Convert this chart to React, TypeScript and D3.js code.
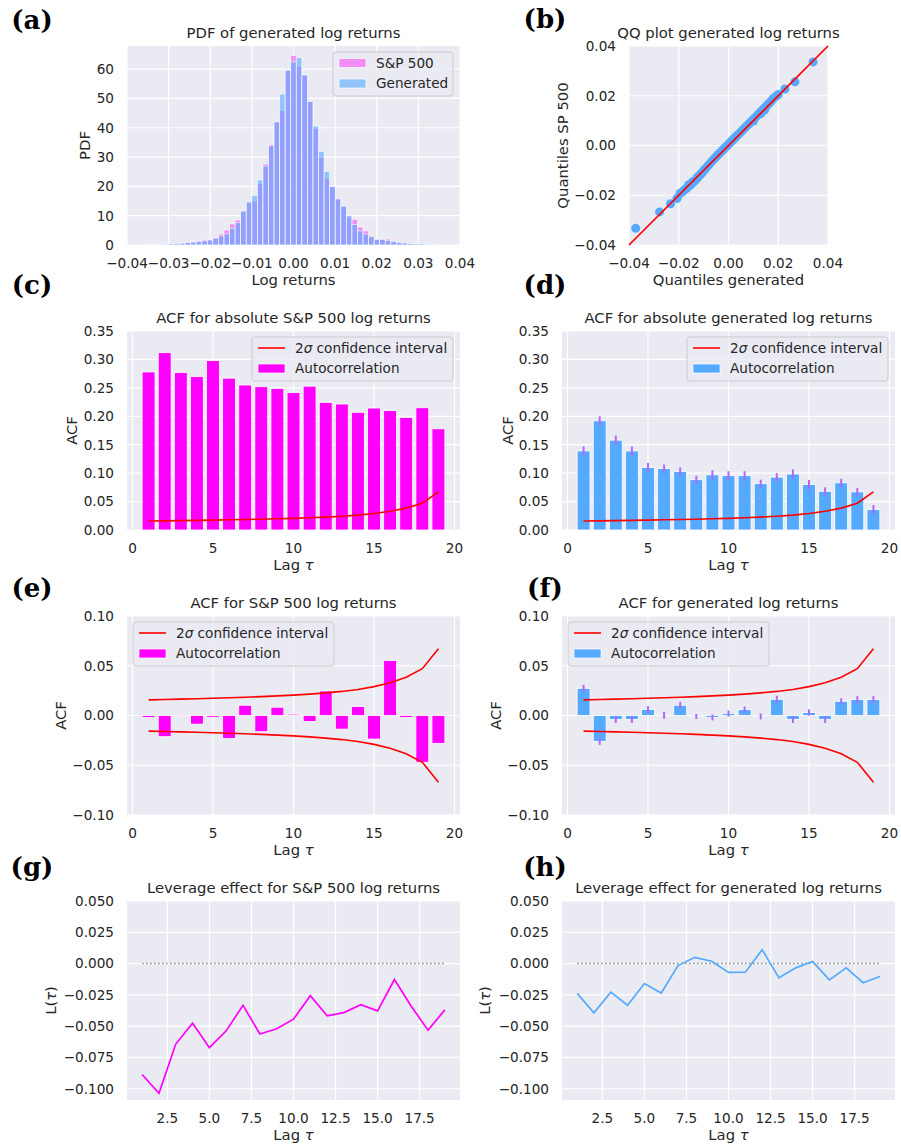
import React from 'react';
import * as d3 from 'd3';

const FONT = '"DejaVu Sans", sans-serif';
const SERIF = '"DejaVu Serif", serif';
const BG = '#eaeaf2';
const TXT = '#262626';
const MAGENTA = '#ff00ff';
const BLUE = '#55aaff';
const RED = '#ff0000';
const ERR = '#b266ff';
const TICK_FS = 13.6;
const LABEL_FS = 14.8;
const LEGEND_FS = 13.6;

// ---------- (a) histogram ----------
const histBinWidth = 0.001336;
const histBinIndex = [-28, -27, -26, -25, -24, -23, -22, -21, -20, -19, -18, -17, -16, -15, -14, -13, -12, -11, -10, -9, -8, -7, -6, -5, -4, -3, -2, -1, 0, 1, 2, 3, 4, 5, 6, 7, 8, 9, 10, 11, 12, 13, 14, 15, 16, 17, 18, 19, 20, 21, 22, 23, 24, 25, 26];
const histSP = [0.1, 0.15, 0.2, 0.25, 0.3, 0.35, 0.45, 0.55, 0.7, 1.0, 1.1, 1.4, 1.7, 1.9, 2.6, 3.75, 5.1, 7.2, 8.5, 11.5, 14.4, 15.0, 21.0, 27.6, 34.3, 42.0, 45.8, 59.4, 64.7, 61.0, 58.0, 49.0, 39.8, 29.8, 22.7, 19.9, 15.9, 13.1, 9.5, 8.75, 6.1, 4.8, 3.1, 2.0, 2.0, 2.0, 1.25, 0.9, 0.7, 0.5, 0.4, 0.3, 0.25, 0.2, 0.25];
const histGen = [0.05, 0.1, 0.15, 0.2, 0.25, 0.3, 0.4, 0.55, 0.6, 0.9, 1.0, 1.25, 1.4, 1.7, 2.3, 3.1, 3.8, 5.7, 7.6, 11.6, 14.7, 16.8, 22.2, 26.9, 33.8, 42.0, 51.5, 59.7, 62.5, 63.9, 58.0, 48.9, 40.6, 32.0, 25.0, 19.9, 15.7, 13.3, 10.0, 7.0, 4.8, 3.75, 2.8, 1.9, 1.9, 1.5, 1.25, 0.9, 0.7, 0.5, 0.4, 0.45, 0.3, 0.3, 0.15];
const histXTicks = [-0.04, -0.03, -0.02, -0.01, 0, 0.01, 0.02, 0.03, 0.04];
const histYTicks = [0, 10, 20, 30, 40, 50, 60];

// ---------- (b) QQ plot ----------
const qqGenerated = [-0.0373, -0.0277, -0.0233, -0.0207, -0.0195, -0.0185, -0.0176, -0.0167, -0.0160, -0.0158, -0.0150, -0.0145, -0.0142, -0.0134, -0.0126, -0.0125, -0.0119, -0.0112, -0.0110, -0.0104, -0.0097, -0.0095, -0.0090, -0.0083, -0.0076, -0.0069, -0.0062, -0.0055, -0.0048, -0.0041, -0.0034, -0.0027, -0.0020, -0.0013, -0.0006, 0.0001, 0.0008, 0.0015, 0.0022, 0.0029, 0.0036, 0.0043, 0.0050, 0.0057, 0.0064, 0.0071, 0.0078, 0.0085, 0.0092, 0.0099, 0.0100, 0.0106, 0.0113, 0.0120, 0.0127, 0.0130, 0.0134, 0.0141, 0.0145, 0.0148, 0.0155, 0.0163, 0.0171, 0.0179, 0.0190, 0.0200, 0.0227, 0.0267, 0.0340];
const qqSP500 = [-0.0333, -0.0267, -0.0234, -0.0213, -0.0193, -0.0186, -0.0178, -0.0171, -0.0158, -0.0163, -0.0156, -0.0146, -0.0148, -0.0141, -0.0132, -0.0127, -0.0124, -0.0116, -0.0112, -0.0107, -0.0098, -0.0096, -0.0090, -0.0082, -0.0074, -0.0066, -0.0058, -0.0051, -0.0043, -0.0036, -0.0029, -0.0022, -0.0015, -0.0008, -0.0001, 0.0006, 0.0013, 0.0020, 0.0027, 0.0034, 0.0041, 0.0048, 0.0055, 0.0062, 0.0069, 0.0076, 0.0083, 0.0090, 0.0097, 0.0104, 0.0098, 0.0111, 0.0118, 0.0126, 0.0133, 0.0128, 0.0140, 0.0147, 0.0142, 0.0154, 0.0161, 0.0169, 0.0178, 0.0188, 0.0197, 0.0205, 0.0227, 0.0256, 0.0336];
const qqTicks = [-0.04, -0.02, 0, 0.02, 0.04];

// ---------- ACF panels ----------
const lags = [1, 2, 3, 4, 5, 6, 7, 8, 9, 10, 11, 12, 13, 14, 15, 16, 17, 18, 19];
const confUpper = [0.0157, 0.0161, 0.0165, 0.0169, 0.0174, 0.0179, 0.0184, 0.019, 0.0197, 0.0205, 0.0215, 0.0227, 0.0242, 0.0262, 0.029, 0.033, 0.0385, 0.047, 0.067];
const confLower = [-0.0157, -0.0161, -0.0165, -0.0169, -0.0174, -0.0179, -0.0184, -0.019, -0.0197, -0.0205, -0.0215, -0.0227, -0.0242, -0.0262, -0.029, -0.033, -0.0385, -0.047, -0.067];
const acfAbsSP = [0.278, 0.312, 0.277, 0.270, 0.298, 0.267, 0.255, 0.252, 0.249, 0.242, 0.253, 0.2245, 0.2216, 0.207, 0.2145, 0.210, 0.198, 0.215, 0.178];
const acfAbsGen = [0.139, 0.192, 0.158, 0.139, 0.110, 0.108, 0.103, 0.0885, 0.097, 0.0955, 0.0955, 0.0815, 0.093, 0.0985, 0.080, 0.068, 0.083, 0.067, 0.036];
const acfAbsGenErr = [0.008, 0.008, 0.008, 0.008, 0.008, 0.007, 0.007, 0.007, 0.008, 0.008, 0.008, 0.007, 0.007, 0.008, 0.008, 0.007, 0.007, 0.007, 0.008];
const acfSP = [-0.002, -0.0213, -0.001, -0.0087, -0.0017, -0.023, 0.0103, -0.0163, 0.0083, 0.0013, -0.006, 0.0247, -0.0137, 0.009, -0.0237, 0.0553, -0.002, -0.047, -0.028];
const acfGen = [0.0273, -0.026, -0.004, -0.004, 0.006, 0.0003, 0.0103, -0.001, -0.002, 0.002, 0.006, -0.001, 0.0163, -0.004, 0.003, -0.004, 0.0143, 0.016, 0.016];
const acfGenErr = [0.0035, 0.0035, 0.0035, 0.0035, 0.0035, 0.0035, 0.0035, 0.0025, 0.003, 0.003, 0.003, 0.003, 0.0035, 0.0035, 0.003, 0.0035, 0.003, 0.0035, 0.0035];
const acfXTicks = [0, 5, 10, 15, 20];
const acfAbsYTicks = [0, 0.05, 0.1, 0.15, 0.2, 0.25, 0.3, 0.35];
const acfYTicks = [-0.1, -0.05, 0, 0.05, 0.1];

// ---------- Leverage ----------
const levSP = [-0.0886, -0.1037, -0.0643, -0.0476, -0.0672, -0.0537, -0.0333, -0.0563, -0.0521, -0.0444, -0.0257, -0.0418, -0.0392, -0.0328, -0.0378, -0.0127, -0.0341, -0.0532, -0.037];
const levGen = [-0.0238, -0.0394, -0.0228, -0.0333, -0.0159, -0.0235, -0.0016, 0.005, 0.0019, -0.0071, -0.0069, 0.0111, -0.0114, -0.0034, 0.0016, -0.013, -0.0034, -0.0153, -0.0103];
const levXTicks = [2.5, 5, 7.5, 10, 12.5, 15, 17.5];
const levYTicks = [-0.1, -0.075, -0.05, -0.025, 0, 0.025, 0.05];

type Box = { x0: number; x1: number; y0: number; y1: number };

const LEFT = { x0: 127, x1: 460 };
const RIGHT = { x0: 562, x1: 895 };

function Frame(props: {
  box: Box;
  x: (v: number) => number;
  y: (v: number) => number;
  xTicks: number[];
  yTicks: number[];
  xFmt: (v: number) => string;
  yFmt: (v: number) => string;
  title: React.ReactNode;
  xLabel: React.ReactNode;
  yLabel: React.ReactNode;
  yLabelX: number;
  children?: React.ReactNode;
}) {
  const { box, x, y, xTicks, yTicks, xFmt, yFmt, title, xLabel, yLabel, yLabelX, children } = props;
  const cx = (box.x0 + box.x1) / 2;
  const cy = (box.y0 + box.y1) / 2;
  return (
    <g>
      <rect x={box.x0} y={box.y0} width={box.x1 - box.x0} height={box.y1 - box.y0} fill={BG} />
      {xTicks.map((t, i) => {
        const px = x(t);
        if (px < box.x0 - 0.5 || px > box.x1 + 0.5) return null;
        return <line key={'gx' + i} x1={px} x2={px} y1={box.y0} y2={box.y1} stroke="#fff" strokeWidth={1.2} />;
      })}
      {yTicks.map((t, i) => {
        const py = y(t);
        if (py < box.y0 - 0.5 || py > box.y1 + 0.5) return null;
        return <line key={'gy' + i} x1={box.x0} x2={box.x1} y1={py} y2={py} stroke="#fff" strokeWidth={1.2} />;
      })}
      {children}
      {xTicks.map((t, i) => (
        <text key={'tx' + i} x={x(t)} y={box.y1 + 22.5} textAnchor="middle" fontSize={TICK_FS} fill={TXT} fontFamily={FONT}>
          {xFmt(t)}
        </text>
      ))}
      {yTicks.map((t, i) => (
        <text key={'ty' + i} x={box.x0 - 13} y={y(t)} dy="0.36em" textAnchor="end" fontSize={TICK_FS} fill={TXT} fontFamily={FONT}>
          {yFmt(t)}
        </text>
      ))}
      <text x={cx} y={box.y0 - 8.5} textAnchor="middle" fontSize={LABEL_FS} fill={TXT} fontFamily={FONT}>
        {title}
      </text>
      <text x={cx} y={box.y1 + 40} textAnchor="middle" fontSize={LABEL_FS} fill={TXT} fontFamily={FONT}>
        {xLabel}
      </text>
      <text transform={`translate(${yLabelX},${cy}) rotate(-90)`} textAnchor="middle" fontSize={LABEL_FS} fill={TXT} fontFamily={FONT}>
        {yLabel}
      </text>
    </g>
  );
}

type LegendItem = { kind: 'line' | 'bar'; color: string; opacity?: number; label: React.ReactNode };

function Legend({ x, y, w, items }: { x: number; y: number; w: number; items: LegendItem[] }) {
  const h = 44;
  return (
    <g>
      <rect x={x} y={y} width={w} height={h} rx={3} fill={BG} fillOpacity={0.8} stroke="#cccccc" strokeWidth={1} />
      {items.map((it, i) => {
        const ry = y + 11 + i * 20.5;
        return (
          <g key={i}>
            {it.kind === 'line' ? (
              <line x1={x + 6} x2={x + 33} y1={ry} y2={ry} stroke={it.color} strokeWidth={1.6} />
            ) : (
              <rect x={x + 6} y={ry - 4.5} width={27} height={9} fill={it.color} fillOpacity={it.opacity ?? 1} stroke="#fff" strokeWidth={0.7} />
            )}
            <text x={x + 43} y={ry} dy="0.36em" fontSize={LEGEND_FS} fill={TXT} fontFamily={FONT}>
              {it.label}
            </text>
          </g>
        );
      })}
    </g>
  );
}

const sigmaLabel = (
  <>
    <tspan>2</tspan>
    <tspan fontStyle="italic">σ</tspan>
    <tspan> confidence interval</tspan>
  </>
);
const lagLabel = (
  <>
    <tspan>Lag </tspan>
    <tspan fontStyle="italic">τ</tspan>
  </>
);
const levLabel = (
  <>
    <tspan>L(</tspan>
    <tspan fontStyle="italic">τ</tspan>
    <tspan>)</tspan>
  </>
);

const f2 = d3.format('.2f');
const f1 = d3.format('.1f');
const f3 = d3.format('.3f');
const f0 = d3.format('d');

function HistPanel() {
  const box: Box = { x0: 127, x1: 460, y0: 46, y1: 245 };
  const x = d3.scaleLinear().domain([-0.04, 0.04]).range([box.x0, box.x1]);
  const y = d3.scaleLinear().domain([0, 67.9]).range([box.y1, box.y0]);
  const centers = histBinIndex.map((k) => k * histBinWidth);
  const bars = (vals: number[], color: string, op: number) =>
    vals.map((v, i) => {
      const c = centers[i];
      const xl = x(c - histBinWidth / 2);
      const xr = x(c + histBinWidth / 2);
      return (
        <rect key={color + i} x={xl} y={y(v)} width={xr - xl} height={y(0) - y(v)} fill={color} fillOpacity={op} stroke="#fff" strokeWidth={0.7} strokeOpacity={0.8} />
      );
    });
  return (
    <Frame box={box} x={x} y={y} xTicks={histXTicks} yTicks={histYTicks} xFmt={f2} yFmt={f0}
      title="PDF of generated log returns" xLabel="Log returns" yLabel="PDF" yLabelX={90}>
      {bars(histSP, MAGENTA, 0.4)}
      {bars(histGen, BLUE, 0.6)}
      <Legend x={333} y={52} w={120} items={[
        { kind: 'bar', color: '#f28cf7', label: 'S&P 500' },
        { kind: 'bar', color: '#91c4fa', label: 'Generated' },
      ]} />
    </Frame>
  );
}

function QQPanel() {
  const box: Box = { x0: 629, x1: 828, y0: 46, y1: 245 };
  const x = d3.scaleLinear().domain([-0.04, 0.04]).range([box.x0, box.x1]);
  const y = d3.scaleLinear().domain([-0.04, 0.04]).range([box.y1, box.y0]);
  return (
    <Frame box={box} x={x} y={y} xTicks={qqTicks} yTicks={qqTicks} xFmt={f2} yFmt={f2}
      title="QQ plot generated log returns" xLabel="Quantiles generated" yLabel="Quantiles SP 500" yLabelX={568}>
      {qqGenerated.map((g, i) => (
        <circle key={i} cx={x(g)} cy={y(qqSP500[i])} r={4.5} fill={BLUE} />
      ))}
      <line x1={x(-0.04)} y1={y(-0.04)} x2={x(0.04)} y2={y(0.04)} stroke={RED} strokeWidth={1.7} />
    </Frame>
  );
}

function AcfPanel(props: {
  side: { x0: number; x1: number };
  y0: number;
  y1: number;
  domain: [number, number];
  yTicks: number[];
  values: number[];
  errors?: number[];
  color: string;
  title: string;
  yLabelX: number;
  legendX: number;
  showLower: boolean;
}) {
  const { side, y0, y1, domain, yTicks, values, errors, color, title, yLabelX, legendX, showLower } = props;
  const box: Box = { x0: side.x0, x1: side.x1, y0, y1 };
  const x = d3.scaleLinear().domain([-0.34, 20.34]).range([box.x0, box.x1]);
  const y = d3.scaleLinear().domain(domain).range([box.y1, box.y0]);
  const line = d3.line<number>().x((_, i) => x(lags[i])).y((d) => y(d));
  return (
    <Frame box={box} x={x} y={y} xTicks={acfXTicks} yTicks={yTicks} xFmt={f0} yFmt={f2}
      title={title} xLabel={lagLabel} yLabel="ACF" yLabelX={yLabelX}>
      {values.map((v, i) => {
        const xl = x(lags[i] - 0.4);
        const xr = x(lags[i] + 0.4);
        const top = Math.min(y(v), y(0));
        const hgt = Math.abs(y(v) - y(0));
        return <rect key={i} x={xl} y={top} width={xr - xl} height={hgt} fill={color} stroke="#fff" strokeWidth={0.8} />;
      })}
      {errors &&
        values.map((v, i) => (
          <line key={'e' + i} x1={x(lags[i])} x2={x(lags[i])} y1={y(v - errors[i])} y2={y(v + errors[i])} stroke={ERR} strokeWidth={2} />
        ))}
      <path d={line(confUpper) || ''} fill="none" stroke={RED} strokeWidth={1.6} />
      {showLower && <path d={line(confLower) || ''} fill="none" stroke={RED} strokeWidth={1.6} />}
      <Legend x={legendX} y={y0 + 6} w={201} items={[
        { kind: 'line', color: RED, label: sigmaLabel },
        { kind: 'bar', color: color, label: 'Autocorrelation' },
      ]} />
    </Frame>
  );
}

function LevPanel(props: { side: { x0: number; x1: number }; values: number[]; color: string; title: string; yLabelX: number }) {
  const { side, values, color, title, yLabelX } = props;
  const box: Box = { x0: side.x0, x1: side.x1, y0: 901, y1: 1100 };
  const x = d3.scaleLinear().domain([0.1, 19.9]).range([box.x0, box.x1]);
  const y = d3.scaleLinear().domain([-0.109, 0.05]).range([box.y1, box.y0]);
  const line = d3.line<number>().x((_, i) => x(lags[i])).y((d) => y(d));
  return (
    <Frame box={box} x={x} y={y} xTicks={levXTicks} yTicks={levYTicks} xFmt={f1} yFmt={f3}
      title={title} xLabel={lagLabel} yLabel={levLabel} yLabelX={yLabelX}>
      <line x1={x(lags[0])} x2={x(lags[lags.length - 1])} y1={y(0)} y2={y(0)} stroke="#808080" strokeWidth={1.5} strokeDasharray="1.4 2.6" />
      <path d={line(values) || ''} fill="none" stroke={color} strokeWidth={1.7} />
    </Frame>
  );
}

function PanelLabel({ x, y, text }: { x: number; y: number; text: string }) {
  return (
    <text x={x} y={y} textAnchor="middle" fontSize={26} fontWeight="bold" fontFamily={SERIF} fill="#000">
      {text}
    </text>
  );
}

export default function App() {
  return (
    <svg width={901} height={1148} style={{ position: 'absolute', left: 0, top: 0, background: '#fff' }} xmlns="http://www.w3.org/2000/svg">
      <rect x={0} y={0} width={901} height={1148} fill="#fff" />
      <HistPanel />
      <QQPanel />
      <AcfPanel side={LEFT} y0={331} y1={530} domain={[0, 0.35]} yTicks={acfAbsYTicks} values={acfAbsSP} color={MAGENTA}
        title="ACF for absolute S&P 500 log returns" yLabelX={77} legendX={252} showLower={false} />
      <AcfPanel side={RIGHT} y0={331} y1={530} domain={[0, 0.35]} yTicks={acfAbsYTicks} values={acfAbsGen} errors={acfAbsGenErr} color={BLUE}
        title="ACF for absolute generated log returns" yLabelX={513} legendX={687} showLower={false} />
      <AcfPanel side={LEFT} y0={616} y1={815} domain={[-0.1, 0.1]} yTicks={acfYTicks} values={acfSP} color={MAGENTA}
        title="ACF for S&P 500 log returns" yLabelX={66} legendX={133} showLower={true} />
      <AcfPanel side={RIGHT} y0={616} y1={815} domain={[-0.1, 0.1]} yTicks={acfYTicks} values={acfGen} errors={acfGenErr} color={BLUE}
        title="ACF for generated log returns" yLabelX={501} legendX={568} showLower={true} />
      <LevPanel side={LEFT} values={levSP} color={MAGENTA} title="Leverage effect for S&P 500 log returns" yLabelX={56} />
      <LevPanel side={RIGHT} values={levGen} color={BLUE} title="Leverage effect for generated log returns" yLabelX={490} />
      <PanelLabel x={32} y={29} text="(a)" />
      <PanelLabel x={545} y={28} text="(b)" />
      <PanelLabel x={32} y={294} text="(c)" />
      <PanelLabel x={545} y={294} text="(d)" />
      <PanelLabel x={32} y={597} text="(e)" />
      <PanelLabel x={545} y={597} text="(f)" />
      <PanelLabel x={32} y={876} text="(g)" />
      <PanelLabel x={545} y={876} text="(h)" />
    </svg>
  );
}
